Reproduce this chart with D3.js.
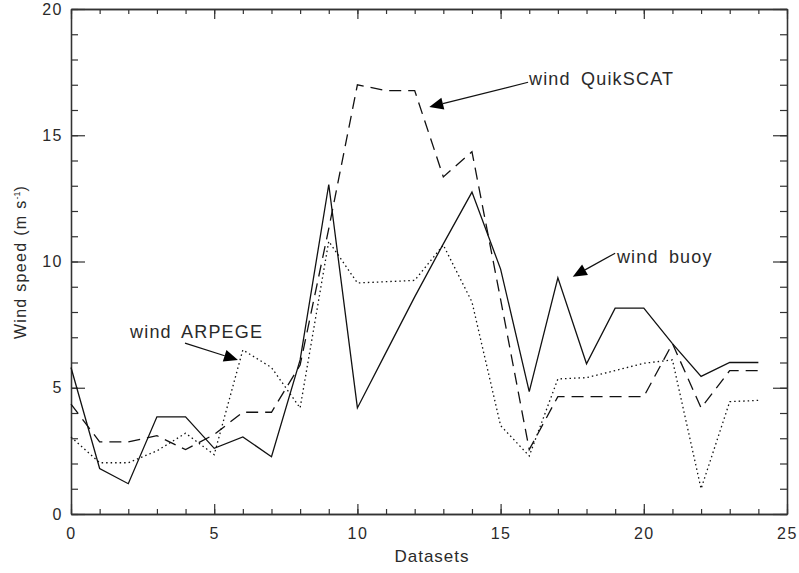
<!DOCTYPE html>
<html>
<head>
<meta charset="utf-8">
<script src="https://cdn.jsdelivr.net/npm/d3@7"></script>
<style>
  html, body { margin: 0; padding: 0; background: #fff; }
  svg { display: block; font-family: "Liberation Sans", Arial, sans-serif; }
</style>
</head>
<body>
<div id="chart"></div>
<script>
// dataset index along the x axis
const datasets = d3.range(0, 25);

// wind speed (m/s) per dataset
const windBuoy = [5.8, 1.8, 1.2, 3.85, 3.85, 2.6, 3.05, 2.27, 6.1, 13.05, 4.2, 6.4, 8.6, 10.7, 12.75, 9.7, 4.85, 9.35, 5.95, 8.15, 8.15, 6.75, 5.45, 6.0, 6.0];
const windQuikscat = [4.35, 2.86, 2.86, 3.1, 2.55, 3.15, 4.03, 4.03, 5.9, 11.3, 17.0, 16.77, 16.77, 13.35, 14.35, 8.5, 2.55, 4.65, 4.65, 4.65, 4.65, 6.75, 4.2, 5.68, 5.68];
const windArpege = [3.05, 2.03, 2.03, 2.5, 3.2, 2.35, 6.5, 5.8, 4.2, 10.8, 9.15, 9.2, 9.25, 10.65, 8.4, 3.5, 2.3, 5.35, 5.4, 5.68, 5.97, 6.1, 1.0, 4.45, 4.5];

const xMajorTicks = [0, 5, 10, 15, 20, 25];
const yMajorTicks = [0, 5, 10, 15, 20];

// annotation labels, anchored in data units
const annotations = [
  { label: "wind QuikSCAT", text: [15.99, 17.0], tail: [15.96, 17.1], tip: [12.51, 16.12] },
  { label: "wind ARPEGE", text: [2.06, 6.98], tail: [3.98, 6.77], tip: [5.83, 6.1] },
  { label: "wind buoy", text: [19.06, 9.94], tail: [19.0, 10.33], tip: [17.52, 9.4] },
];

const width = 799;
const height = 573;
const margin = { top: 9, right: 12, bottom: 59, left: 71 };
const innerWidth = width - margin.left - margin.right;
const innerHeight = height - margin.top - margin.bottom;

const xScale = d3.scaleLinear().domain([0, 25]).range([0, innerWidth]);
const yScale = d3.scaleLinear().domain([0, 20]).range([innerHeight, 0]);

const svg = d3
  .select("#chart")
  .append("svg")
  .attr("width", width)
  .attr("height", height)
  .attr("viewBox", [0, 0, width, height]);

const chart = svg
  .append("g")
  .attr("transform", `translate(${margin.left},${margin.top})`);

const axisColor = "#333";
const textColor = "#2a2a2a";
const styleAxis = (axis) => {
  axis.selectAll(".domain").attr("stroke", axisColor).attr("stroke-width", 1.3);
  axis.selectAll(".tick line").attr("stroke", axisColor).attr("stroke-width", 1.2);
  axis
    .selectAll(".tick text")
    .attr("fill", textColor)
    .style("font-size", "16px")
    .style("letter-spacing", "1.5px");
};
const dropLabels = (axis) => axis.selectAll(".tick text").remove();

const minor = d3.range(0, 26);
const minorY = d3.range(0, 21);

// bottom axis: minor then major
chart
  .append("g")
  .attr("transform", `translate(0,${innerHeight})`)
  .call(d3.axisBottom(xScale).tickValues(minor).tickSize(-5).tickSizeOuter(0))
  .call(dropLabels)
  .call(styleAxis);
chart
  .append("g")
  .attr("transform", `translate(0,${innerHeight})`)
  .call(d3.axisBottom(xScale).tickValues(xMajorTicks).tickSize(-10).tickSizeOuter(0).tickPadding(14).tickFormat(d3.format("d")))
  .call(styleAxis);

// top axis
chart
  .append("g")
  .call(d3.axisTop(xScale).tickValues(minor).tickSize(-5).tickSizeOuter(0))
  .call(dropLabels)
  .call(styleAxis);
chart
  .append("g")
  .call(d3.axisTop(xScale).tickValues(xMajorTicks).tickSize(-10).tickSizeOuter(0))
  .call(dropLabels)
  .call(styleAxis);

// left axis
chart
  .append("g")
  .call(d3.axisLeft(yScale).tickValues(minorY).tickSize(-7).tickSizeOuter(0))
  .call(dropLabels)
  .call(styleAxis);
chart
  .append("g")
  .call(d3.axisLeft(yScale).tickValues(yMajorTicks).tickSize(-14).tickSizeOuter(0).tickPadding(8).tickFormat(d3.format("d")))
  .call(styleAxis);

// right axis
chart
  .append("g")
  .attr("transform", `translate(${innerWidth},0)`)
  .call(d3.axisRight(yScale).tickValues(minorY).tickSize(-7).tickSizeOuter(0))
  .call(dropLabels)
  .call(styleAxis);
chart
  .append("g")
  .attr("transform", `translate(${innerWidth},0)`)
  .call(d3.axisRight(yScale).tickValues(yMajorTicks).tickSize(-14).tickSizeOuter(0))
  .call(dropLabels)
  .call(styleAxis);

// axis titles
svg
  .append("text")
  .attr("x", margin.left + innerWidth / 2 + 3)
  .attr("y", 562)
  .attr("text-anchor", "middle")
  .attr("fill", textColor)
  .style("font-size", "17px")
  .style("letter-spacing", "1px")
  .text("Datasets");

const yTitle = svg
  .append("text")
  .attr("transform", `translate(26,${262}) rotate(-90)`)
  .attr("text-anchor", "middle")
  .attr("fill", textColor)
  .style("font-size", "16px")
  .style("letter-spacing", "1.3px");
yTitle.append("tspan").text("Wind speed (m s");
yTitle.append("tspan").attr("dy", -6).style("font-size", "9px").style("letter-spacing", "0px").text("-1");
yTitle.append("tspan").attr("dy", 6).text(")");

// series lines
const series = [
  { values: windBuoy, dash: null },
  { values: windQuikscat, dash: "12,7" },
  { values: windArpege, dash: "1.5,3" },
];

const line = d3
  .line()
  .x((d, i) => xScale(datasets[i]))
  .y((d) => yScale(d));

series.forEach((s) => {
  chart
    .append("path")
    .datum(s.values)
    .attr("fill", "none")
    .attr("stroke", "#111")
    .attr("stroke-width", 1.3)
    .attr("stroke-dasharray", s.dash)
    .attr("stroke-linejoin", "miter")
    .attr("d", line);
});

// annotations with filled arrowheads
annotations.forEach((a) => {
  const [tx, ty] = [xScale(a.tip[0]), yScale(a.tip[1])];
  const [sx, sy] = [xScale(a.tail[0]), yScale(a.tail[1])];
  const angle = Math.atan2(ty - sy, tx - sx);
  const headLength = 14;
  const headWidth = 6;
  const bx = tx - headLength * Math.cos(angle);
  const by = ty - headLength * Math.sin(angle);

  chart
    .append("line")
    .attr("x1", sx)
    .attr("y1", sy)
    .attr("x2", bx)
    .attr("y2", by)
    .attr("stroke", "#111")
    .attr("stroke-width", 1.2);

  chart
    .append("path")
    .attr(
      "d",
      `M${tx},${ty}L${bx + headWidth * Math.sin(angle)},${by - headWidth * Math.cos(angle)}L${bx - headWidth * Math.sin(angle)},${by + headWidth * Math.cos(angle)}Z`,
    )
    .attr("fill", "#000");

  chart
    .append("text")
    .attr("x", xScale(a.text[0]))
    .attr("y", yScale(a.text[1]))
    .attr("fill", textColor)
    .style("font-size", "18px")
    .style("letter-spacing", "1.2px")
    .style("word-spacing", "4px")
    .text(a.label);
});
</script>
</body>
</html>
